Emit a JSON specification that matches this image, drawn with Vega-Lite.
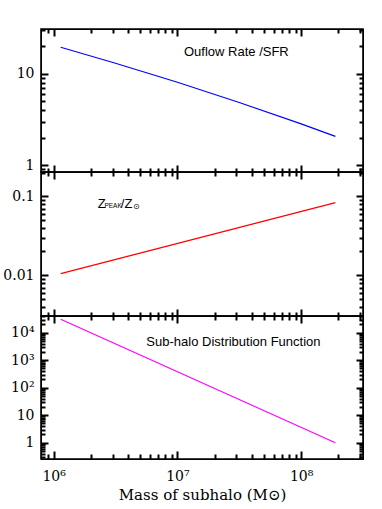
{
  "$schema": "https://vega.github.io/schema/vega-lite/v6.json",
  "padding": {"top": 27, "left": 2, "right": 20, "bottom": 0},
  "spacing": 0,
  "bounds": "flush",
  "config": {
    "view": {"stroke": "black", "strokeWidth": 1.6},
    "axis": {"grid": false, "labelColor": "black", "labelFont": "DejaVu Serif", "labelFontSize": 14, "titleFont": "DejaVu Serif", "titleFontSize": 15, "titleFontWeight": "normal", "titleColor": "black"}
  },
  "datasets": {
    "outflow": [
      {"m": 1140000, "v": 19.4},
      {"m": 3160000, "v": 13.0},
      {"m": 10000000, "v": 8.06},
      {"m": 31600000, "v": 4.84},
      {"m": 100000000, "v": 2.83},
      {"m": 189000000, "v": 2.07}
    ],
    "zpeak": [
      {"m": 1140000, "v": 0.0105},
      {"m": 189000000, "v": 0.083}
    ],
    "subhalo": [
      {"m": 1140000, "v": 30700},
      {"m": 189000000, "v": 1.0}
    ],
    "lab1": [{"m": 11300000, "v": 17.3, "t": "Ouflow Rate /SFR"}],
    "lab2big": [{"m": 2270000, "v": 0.0804, "t": "Z"}, {"m": 3490000, "v": 0.0804, "t": "/Z"}],
    "lab2small": [{"m": 2570000, "v": 0.0745, "t": "PEAK"}],
    "lab2sun": [{"m": 4370000, "v": 0.0740, "t": "⊙"}],
    "lab3": [{"m": 5610000, "v": 4590, "t": "Sub-halo Distribution Function"}]
  },
  "vconcat": [
    {
      "width": 322, "height": 143,
      "data": {"name": "outflow"},
      "encoding": {
        "x": {"field": "m", "type": "quantitative", "scale": {"type": "log", "domain": [790000, 316000000], "nice": false}},
        "y": {"field": "v", "type": "quantitative", "scale": {"type": "log", "domain": [0.845, 30.7], "nice": false}}
      },
      "layer": [
        {
          "mark": {"type": "line", "color": "#0000ff", "strokeWidth": 1.2},
          "encoding": {
            "x": {"field": "m", "type": "quantitative", "axis": {"orient": "bottom", "values": [1000000, 10000000, 100000000], "tickSize": -7, "tickColor": "#000000", "tickWidth": 2, "domainColor": "#000000", "labels": false, "title": null}},
            "y": {"field": "v", "type": "quantitative", "axis": {"orient": "left", "values": [1, 10], "tickSize": -7, "tickColor": "#000000", "tickWidth": 2, "domainColor": "#000000", "labelPadding": 14, "title": null}}
          }
        },
        {
          "mark": {"type": "line", "opacity": 0},
          "encoding": {
            "x": {"field": "m", "type": "quantitative", "axis": {"orient": "bottom", "values": [900000,2000000,3000000,4000000,5000000,6000000,7000000,8000000,9000000,20000000,30000000,40000000,50000000,60000000,70000000,80000000,90000000,200000000,300000000], "tickSize": -4, "tickColor": "#000000", "tickWidth": 2, "domainColor": "#000000", "labels": false, "title": null}},
            "y": {"field": "v", "type": "quantitative", "axis": {"orient": "left", "values": [0.9,2,3,4,5,6,7,8,9,20,30], "tickSize": -4, "tickColor": "#000000", "tickWidth": 2, "domainColor": "#000000", "labels": false, "title": null}}
          }
        },
        {
          "mark": {"type": "line", "opacity": 0},
          "encoding": {
            "x": {"field": "m", "type": "quantitative", "axis": {"orient": "top", "values": [1000000, 10000000, 100000000], "tickSize": -7, "tickColor": "#000000", "tickWidth": 2, "domainColor": "#000000", "labels": false, "title": null}},
            "y": {"field": "v", "type": "quantitative", "axis": {"orient": "right", "values": [1, 10], "tickSize": -7, "tickColor": "#000000", "tickWidth": 2, "domainColor": "#000000", "labels": false, "title": null}}
          }
        },
        {
          "mark": {"type": "line", "opacity": 0},
          "encoding": {
            "x": {"field": "m", "type": "quantitative", "axis": {"orient": "top", "values": [900000,2000000,3000000,4000000,5000000,6000000,7000000,8000000,9000000,20000000,30000000,40000000,50000000,60000000,70000000,80000000,90000000,200000000,300000000], "tickSize": -4, "tickColor": "#000000", "tickWidth": 2, "domainColor": "#000000", "labels": false, "title": null}},
            "y": {"field": "v", "type": "quantitative", "axis": {"orient": "right", "values": [0.9,2,3,4,5,6,7,8,9,20,30], "tickSize": -4, "tickColor": "#000000", "tickWidth": 2, "domainColor": "#000000", "labels": false, "title": null}}
          }
        },
        {
          "data": {"name": "lab1"},
          "mark": {"type": "text", "font": "Liberation Sans", "fontSize": 13, "color": "black", "align": "left", "baseline": "middle"},
          "encoding": {
            "x": {"field": "m", "type": "quantitative", "axis": null},
            "y": {"field": "v", "type": "quantitative", "axis": null},
            "text": {"field": "t"}
          }
        }
      ],
      "resolve": {"axis": {"x": "independent", "y": "independent"}}
    },
    {
      "width": 322, "height": 144,
      "data": {"name": "zpeak"},
      "encoding": {
        "x": {"field": "m", "type": "quantitative", "scale": {"type": "log", "domain": [790000, 316000000], "nice": false}},
        "y": {"field": "v", "type": "quantitative", "scale": {"type": "log", "domain": [0.00305, 0.203], "nice": false}}
      },
      "layer": [
        {
          "mark": {"type": "line", "color": "#ff0000", "strokeWidth": 1.2},
          "encoding": {
            "x": {"field": "m", "type": "quantitative", "axis": {"orient": "bottom", "values": [1000000, 10000000, 100000000], "tickSize": -7, "tickColor": "#000000", "tickWidth": 2, "domainColor": "#000000", "labels": false, "title": null}},
            "y": {"field": "v", "type": "quantitative", "axis": {"orient": "left", "values": [0.01, 0.1], "tickSize": -7, "tickColor": "#000000", "tickWidth": 2, "domainColor": "#000000", "labelPadding": 14, "title": null}}
          }
        },
        {
          "mark": {"type": "line", "opacity": 0},
          "encoding": {
            "x": {"field": "m", "type": "quantitative", "axis": {"orient": "bottom", "values": [900000,2000000,3000000,4000000,5000000,6000000,7000000,8000000,9000000,20000000,30000000,40000000,50000000,60000000,70000000,80000000,90000000,200000000,300000000], "tickSize": -4, "tickColor": "#000000", "tickWidth": 2, "domainColor": "#000000", "labels": false, "title": null}},
            "y": {"field": "v", "type": "quantitative", "axis": {"orient": "left", "values": [0.004,0.005,0.006,0.007,0.008,0.009,0.02,0.03,0.04,0.05,0.06,0.07,0.08,0.09,0.2], "tickSize": -4, "tickColor": "#000000", "tickWidth": 2, "domainColor": "#000000", "labels": false, "title": null}}
          }
        },
        {
          "mark": {"type": "line", "opacity": 0},
          "encoding": {
            "x": {"field": "m", "type": "quantitative", "axis": {"orient": "top", "values": [1000000, 10000000, 100000000], "tickSize": -7, "tickColor": "#000000", "tickWidth": 2, "domainColor": "#000000", "labels": false, "title": null}},
            "y": {"field": "v", "type": "quantitative", "axis": {"orient": "right", "values": [0.01, 0.1], "tickSize": -7, "tickColor": "#000000", "tickWidth": 2, "domainColor": "#000000", "labels": false, "title": null}}
          }
        },
        {
          "mark": {"type": "line", "opacity": 0},
          "encoding": {
            "x": {"field": "m", "type": "quantitative", "axis": {"orient": "top", "values": [900000,2000000,3000000,4000000,5000000,6000000,7000000,8000000,9000000,20000000,30000000,40000000,50000000,60000000,70000000,80000000,90000000,200000000,300000000], "tickSize": -4, "tickColor": "#000000", "tickWidth": 2, "domainColor": "#000000", "labels": false, "title": null}},
            "y": {"field": "v", "type": "quantitative", "axis": {"orient": "right", "values": [0.004,0.005,0.006,0.007,0.008,0.009,0.02,0.03,0.04,0.05,0.06,0.07,0.08,0.09,0.2], "tickSize": -4, "tickColor": "#000000", "tickWidth": 2, "domainColor": "#000000", "labels": false, "title": null}}
          }
        },
        {
          "data": {"name": "lab2big"},
          "mark": {"type": "text", "font": "Liberation Sans", "fontSize": 13, "color": "black", "align": "left", "baseline": "middle"},
          "encoding": {
            "x": {"field": "m", "type": "quantitative", "axis": null},
            "y": {"field": "v", "type": "quantitative", "axis": null},
            "text": {"field": "t"}
          }
        },
        {
          "data": {"name": "lab2small"},
          "mark": {"type": "text", "font": "Liberation Sans", "fontSize": 6.5, "color": "black", "align": "left", "baseline": "middle"},
          "encoding": {
            "x": {"field": "m", "type": "quantitative", "axis": null},
            "y": {"field": "v", "type": "quantitative", "axis": null},
            "text": {"field": "t"}
          }
        },
        {
          "data": {"name": "lab2sun"},
          "mark": {"type": "text", "font": "DejaVu Sans", "fontSize": 8, "color": "black", "align": "left", "baseline": "middle"},
          "encoding": {
            "x": {"field": "m", "type": "quantitative", "axis": null},
            "y": {"field": "v", "type": "quantitative", "axis": null},
            "text": {"field": "t"}
          }
        }
      ],
      "resolve": {"axis": {"x": "independent", "y": "independent"}}
    },
    {
      "width": 322, "height": 143,
      "data": {"name": "subhalo"},
      "encoding": {
        "x": {"field": "m", "type": "quantitative", "scale": {"type": "log", "domain": [790000, 316000000], "nice": false}},
        "y": {"field": "v", "type": "quantitative", "scale": {"type": "log", "domain": [0.255, 40500], "nice": false}}
      },
      "layer": [
        {
          "mark": {"type": "line", "color": "#ff00ff", "strokeWidth": 1.2},
          "encoding": {
            "x": {"field": "m", "type": "quantitative", "axis": {"orient": "bottom", "values": [1000000, 10000000, 100000000], "tickSize": -8, "tickColor": "#000000", "tickWidth": 2, "domainColor": "#000000", "labelPadding": 18,
              "labelExpr": "datum.value == 1000000 ? '10⁶' : datum.value == 10000000 ? '10⁷' : '10⁸'",
              "title": "Mass of subhalo (M⊙)", "titlePadding": 4}},
            "y": {"field": "v", "type": "quantitative", "axis": {"orient": "left", "values": [1, 10, 100, 1000, 10000], "tickSize": -7, "tickColor": "#000000", "tickWidth": 2, "domainColor": "#000000", "labelPadding": 14, "title": null,
              "labelExpr": "datum.value == 10000 ? '10⁴' : datum.value == 1000 ? '10³' : datum.value == 100 ? '10²' : datum.value == 10 ? '10' : '1'"}}
          }
        },
        {
          "mark": {"type": "line", "opacity": 0},
          "encoding": {
            "x": {"field": "m", "type": "quantitative", "axis": {"orient": "bottom", "values": [900000,2000000,3000000,4000000,5000000,6000000,7000000,8000000,9000000,20000000,30000000,40000000,50000000,60000000,70000000,80000000,90000000,200000000,300000000], "tickSize": -5, "tickColor": "#000000", "tickWidth": 2, "domainColor": "#000000", "labels": false, "title": null}},
            "y": {"field": "v", "type": "quantitative", "axis": {"orient": "left", "values": [0.3,0.4,0.5,0.6,0.7,0.8,0.9,2,3,4,5,6,7,8,9,20,30,40,50,60,70,80,90,200,300,400,500,600,700,800,900,2000,3000,4000,5000,6000,7000,8000,9000,20000,30000,40000], "tickSize": -4, "tickColor": "#000000", "tickWidth": 2, "domainColor": "#000000", "labels": false, "title": null}}
          }
        },
        {
          "mark": {"type": "line", "opacity": 0},
          "encoding": {
            "x": {"field": "m", "type": "quantitative", "axis": {"orient": "top", "values": [1000000, 10000000, 100000000], "tickSize": -7, "tickColor": "#000000", "tickWidth": 2, "domainColor": "#000000", "labels": false, "title": null}},
            "y": {"field": "v", "type": "quantitative", "axis": {"orient": "right", "values": [1, 10, 100, 1000, 10000], "tickSize": -7, "tickColor": "#000000", "tickWidth": 2, "domainColor": "#000000", "labels": false, "title": null}}
          }
        },
        {
          "mark": {"type": "line", "opacity": 0},
          "encoding": {
            "x": {"field": "m", "type": "quantitative", "axis": {"orient": "top", "values": [900000,2000000,3000000,4000000,5000000,6000000,7000000,8000000,9000000,20000000,30000000,40000000,50000000,60000000,70000000,80000000,90000000,200000000,300000000], "tickSize": -4, "tickColor": "#000000", "tickWidth": 2, "domainColor": "#000000", "labels": false, "title": null}},
            "y": {"field": "v", "type": "quantitative", "axis": {"orient": "right", "values": [0.3,0.4,0.5,0.6,0.7,0.8,0.9,2,3,4,5,6,7,8,9,20,30,40,50,60,70,80,90,200,300,400,500,600,700,800,900,2000,3000,4000,5000,6000,7000,8000,9000,20000,30000,40000], "tickSize": -4, "tickColor": "#000000", "tickWidth": 2, "domainColor": "#000000", "labels": false, "title": null}}
          }
        },
        {
          "data": {"name": "lab3"},
          "mark": {"type": "text", "font": "Liberation Sans", "fontSize": 13, "color": "black", "align": "left", "baseline": "middle"},
          "encoding": {
            "x": {"field": "m", "type": "quantitative", "axis": null},
            "y": {"field": "v", "type": "quantitative", "axis": null},
            "text": {"field": "t"}
          }
        }
      ],
      "resolve": {"axis": {"x": "independent", "y": "independent"}}
    }
  ]
}
